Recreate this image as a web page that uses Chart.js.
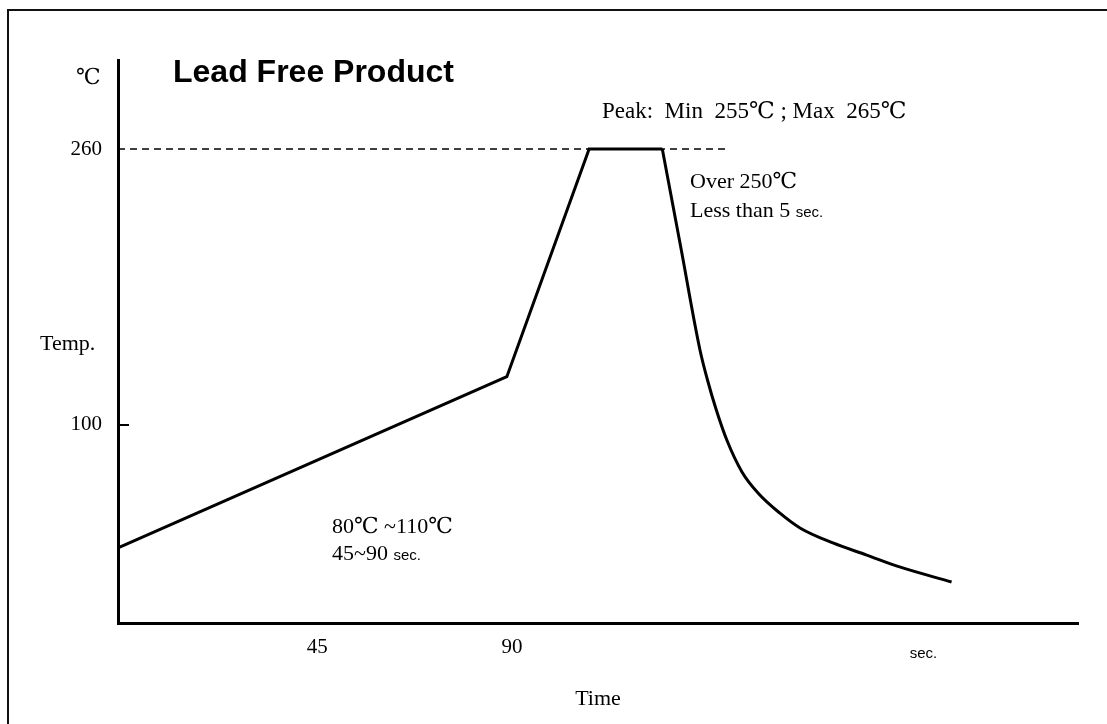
<!DOCTYPE html>
<html>
<head>
<meta charset="utf-8">
<script src="https://cdn.jsdelivr.net/npm/chart.js@4"></script>
<style>
  html, body { margin: 0; padding: 0; background: #fff; overflow: hidden; }
  #wrap { position: relative; width: 1107px; height: 724px; }
  #frame {
    position: absolute; left: 7px; top: 9px; right: -10px; bottom: -10px;
    border-top: 2px solid #111; border-left: 2px solid #111;
    pointer-events: none;
  }
</style>
</head>
<body>
<div id="wrap">
  <canvas id="profile"></canvas>
  <div id="frame"></div>
</div>
<script>
// --- Data ---
// ramp up, soak and peak plateau (straight segments)
const heatTime = [-1, 88.8, 107.8, 124.7];
const heatTemp = [28.7, 128, 260, 260];
// cool-down curve, starting at the end of the plateau
const coolTime = [124.7, 129.0, 133.4, 135.2, 137.1, 139.6, 143.1, 146.8, 151.8, 156.5, 164.1, 171.9, 179.5, 191.5];
const coolTemp = [260, 202.6, 143.5, 125.5, 109.3, 91.3, 72.8, 60.6, 49.0, 40.3, 31.6, 24.6, 17.7, 9.0];
// dashed peak reference line
const peakTime = [-1, 139.2];
const peakTemp = [260, 260];

const xTickValues = [45, 90, 185];
const xTickLabels = ['45', '90', 'sec.'];
const yTickValues = [100, 260];
const yTickLabels = ['100', '260'];

const serif = '"Liberation Serif", "DejaVu Serif", serif';
const sans = '"Liberation Sans", Arial, sans-serif';

function toPoints(xs, ys) {
    return xs.map((x, i) => ({ x: x, y: ys[i] }));
}

// draw a line made of runs with different fonts
function drawRuns(ctx, x, y, runs) {
    runs.forEach(([text, font]) => {
        ctx.font = font;
        ctx.fillText(text, x, y);
        x += ctx.measureText(text).width;
    });
}

// --- Annotations, inward tick, labels ---
const annotations = {
    id: 'annotations',
    afterDraw(chart) {
        const ctx = chart.ctx;
        const yScale = chart.scales.y;
        const area = chart.chartArea;
        ctx.save();

        // small inward tick marks (260 uses the dashed line)
        ctx.strokeStyle = '#000';
        ctx.lineWidth = 2;
        yTickValues.forEach(v => {
            if (v === 260) return;
            const py = Math.round(yScale.getPixelForValue(v));
            ctx.beginPath();
            ctx.moveTo(area.left, py);
            ctx.lineTo(area.left + 11, py);
            ctx.stroke();
        });

        ctx.fillStyle = '#000';
        ctx.textBaseline = 'alphabetic';
        ctx.textAlign = 'left';

        ctx.font = 'bold 32px ' + sans;
        ctx.fillText('Lead Free Product', 173, 82);

        ctx.font = '22px ' + serif;
        ctx.fillText('℃', 76, 84);
        ctx.fillText('Temp.', 40, 350);

        drawRuns(ctx, 602, 118, [['Peak:  Min  255℃ ; Max  265℃', '23px ' + serif]]);
        drawRuns(ctx, 690, 188, [['Over 250℃', '22px ' + serif]]);
        drawRuns(ctx, 690, 217, [['Less than 5 ', '22px ' + serif], ['sec.', '15px ' + sans]]);
        drawRuns(ctx, 332, 533, [['80℃ ~110℃', '22px ' + serif]]);
        drawRuns(ctx, 332, 560, [['45~90 ', '22px ' + serif], ['sec.', '15px ' + sans]]);

        ctx.restore();
    }
};

const ctx = document.getElementById('profile').getContext('2d');
new Chart(ctx, {
    type: 'line',
    data: {
        datasets: [
            {
                data: toPoints(heatTime, heatTemp),
                borderColor: '#000',
                borderWidth: 3,
                tension: 0,
                pointRadius: 0
            },
            {
                data: toPoints(coolTime, coolTemp),
                borderColor: '#000',
                borderWidth: 3,
                cubicInterpolationMode: 'monotone',
                pointRadius: 0
            },
            {
                data: toPoints(peakTime, peakTemp),
                borderColor: '#000',
                borderWidth: 1.5,
                borderDash: [7, 5],
                tension: 0,
                pointRadius: 0
            }
        ]
    },
    options: {
        responsive: true,
        maintainAspectRatio: false,
        animation: false,
        layout: { padding: { top: 60, right: 29, left: 0, bottom: 0 } },
        plugins: {
            legend: { display: false },
            tooltip: { enabled: false }
        },
        scales: {
            x: {
                type: 'linear',
                min: -1,
                max: 220.7,
                afterFit: (scale) => { scale.height = 101; },
                afterBuildTicks: (scale) => {
                    scale.ticks = xTickValues.map(v => ({ value: v }));
                },
                grid: { display: false, drawTicks: false },
                border: { display: true, color: '#000', width: 3 },
                ticks: {
                    color: '#000',
                    padding: 12,
                    maxRotation: 0,
                    autoSkip: false,
                    font: (c) => (c.index === 2
                        ? { family: sans, size: 15, lineHeight: 2.5 }
                        : { family: serif, size: 21 }),
                    callback: (v, i) => xTickLabels[i]
                },
                title: {
                    display: true,
                    text: 'Time',
                    color: '#000',
                    font: { family: serif, size: 22 },
                    padding: { top: 0, bottom: 12 }
                }
            },
            y: {
                type: 'linear',
                min: -14.8,
                max: 311.6,
                afterFit: (scale) => { scale.width = 118; },
                afterBuildTicks: (scale) => {
                    scale.ticks = yTickValues.map(v => ({ value: v }));
                },
                grid: { display: false, drawTicks: false },
                border: { display: true, color: '#000', width: 3 },
                ticks: {
                    color: '#000',
                    padding: 16,
                    font: { family: serif, size: 21 },
                    callback: (v, i) => yTickLabels[i]
                }
            }
        }
    },
    plugins: [annotations]
});
</script>
</body>
</html>
